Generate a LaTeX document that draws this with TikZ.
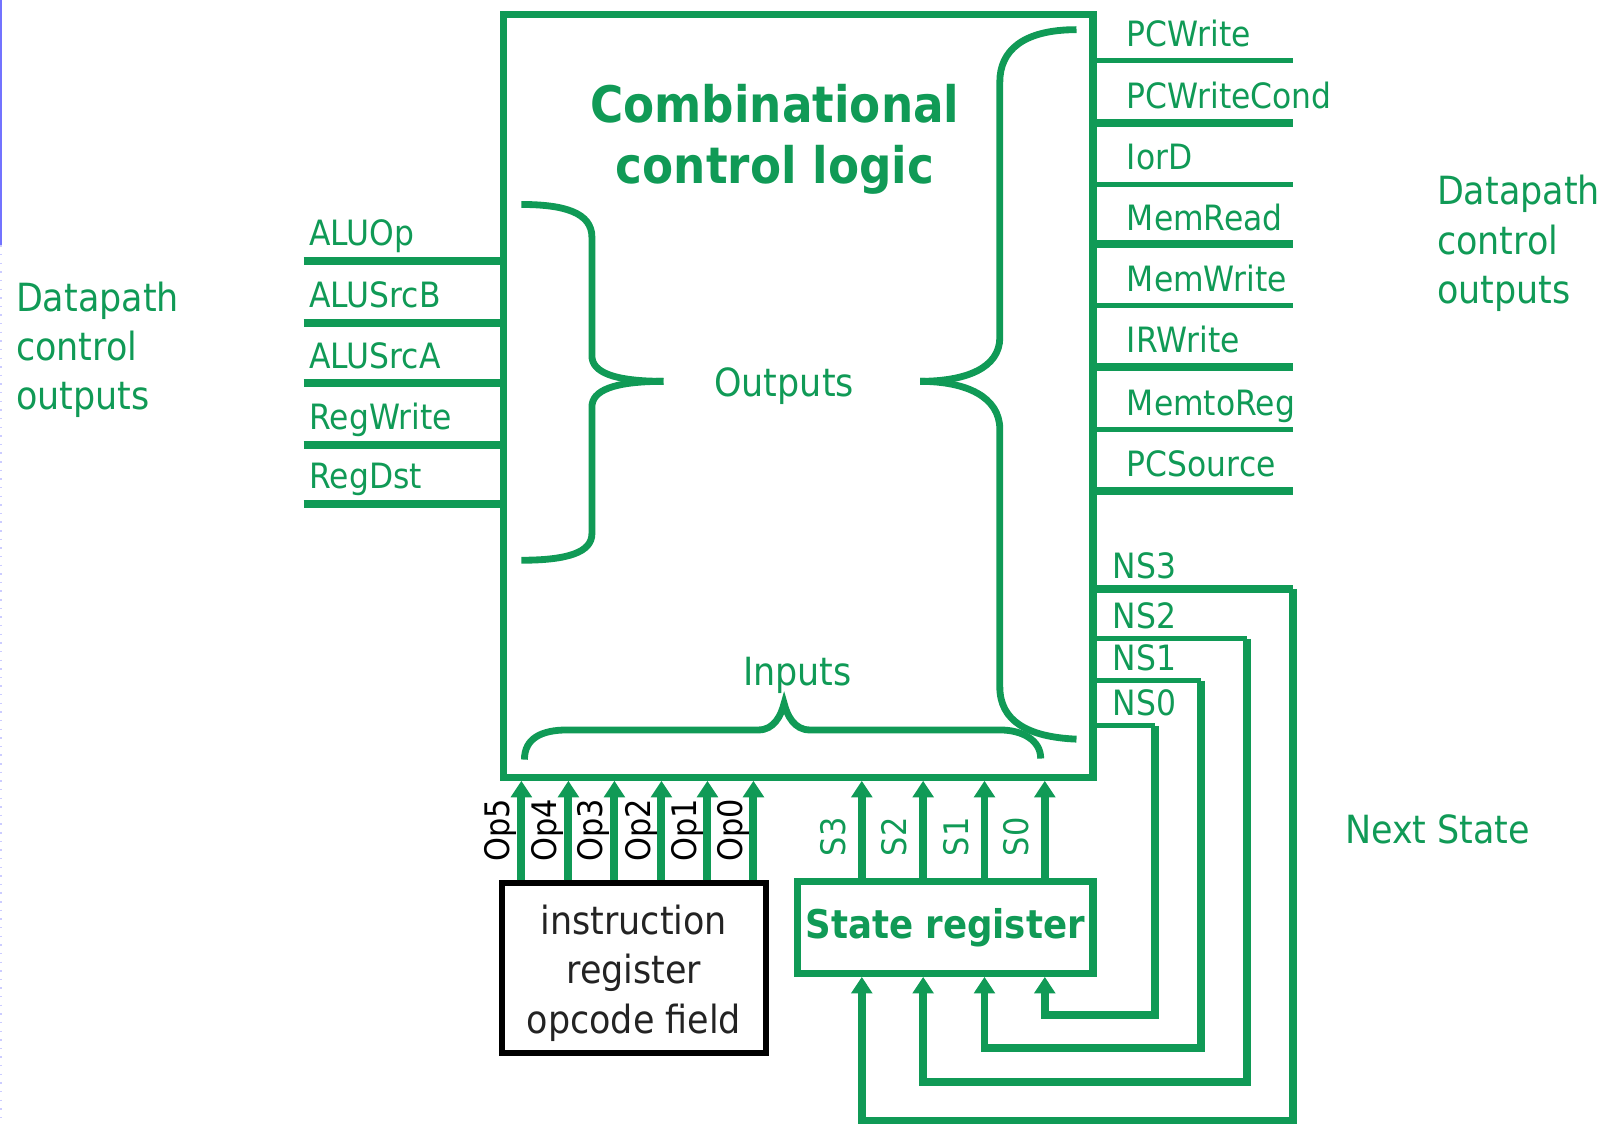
\documentclass[tikz,border=0pt]{standalone}
\usepackage{fontspec}
\setmainfont{DejaVu Sans}[FakeStretch=0.9]
\usetikzlibrary{arrows.meta,positioning,calc}
\definecolor{ctlgreen}{RGB}{16,154,86}
\definecolor{irgray}{RGB}{35,35,35}

\begin{document}
\begin{tikzpicture}[
  x=0.01cm, y=-0.01cm,
  >={Triangle[width=5.7pt,length=4.6pt]},
  block/.style={draw=ctlgreen, line width=2pt, inner sep=0pt},
  sig/.style={ctlgreen, line width=2.2pt},
  bracestroke/.style={ctlgreen, line width=1.9pt},
  siglabel/.style={text=ctlgreen, font=\fontsize{9.7pt}{11pt}\selectfont, inner sep=0pt, anchor=base west},
  buslabel/.style={font=\fontsize{9.4pt}{11pt}\selectfont, inner sep=0pt, rotate=90},
  note/.style={text=ctlgreen, font=\fontsize{10.8pt}{13.7pt}\selectfont, inner sep=0pt, align=left}
]
\useasboundingbox (0,0) rectangle (1568,1099);

% slide edge
\draw[blue!55, line width=0.6pt] (1,0) -- (1,240);
\draw[blue!20, dotted, line width=0.4pt] (1,240) -- (1,1099);

% blocks
\node[block, minimum width=5.76cm, minimum height=7.46cm] (ccl) at (781,387) {};
\node[text=ctlgreen, font=\fontsize{14pt}{17pt}\selectfont\bfseries, align=center] (title) at (758,136) {Combinational\\control logic};
\node[draw=black, line width=1.6pt, minimum width=2.58cm, minimum height=1.66cm, inner sep=0pt] (ir) at (620,947) {};
\node[align=center, text=irgray, font=\fontsize{10.8pt}{13.9pt}\selectfont, inner sep=0pt] (irtext) at ($(ir.center)+(0,5)$) {instruction\\register\\opcode field};
\node[block, minimum width=2.89cm, minimum height=0.9cm, text=ctlgreen,
  font=\fontsize{11pt}{13pt}\selectfont\bfseries] (sr) at (924.5,907) {State register};

% side texts
\node[note, anchor=west] (dpleft) at (15,342) {Datapath\\control\\outputs};
\node[note, anchor=west] (dpright) at (1405,238) {Datapath\\control\\outputs};
\node[note, anchor=west] (next) at (1315,811) {Next State};
\node[note] (outs) at (767,378) {Outputs};
\node[note] (ins) at (780,661) {Inputs};

% braces
\draw[bracestroke] (510,200) .. controls (552,200) and (579,208) .. (579,232)
  -- (579,348) .. controls (579,364) and (600,373) .. (649,373);
\draw[bracestroke] (649,373) .. controls (600,373) and (579,382) .. (579,398)
  -- (579,522) .. controls (579,540) and (556,548) .. (510,548);
\draw[bracestroke] (1053,29) .. controls (1000,29) and (978,50) .. (978,80)
  -- (978,330) .. controls (978,360) and (945,373) .. (900,373);
\draw[bracestroke] (900,373) .. controls (945,373) and (978,388) .. (978,420)
  -- (978,672) .. controls (978,705) and (1005,721) .. (1053,723);
\draw[bracestroke] (513,743) .. controls (513,722) and (530,714) .. (555,714)
  -- (742,714) .. controls (757,714) and (764,700) .. (767,688)
  .. controls (770,700) and (777,714) .. (792,714)
  -- (978,714) .. controls (1000,714) and (1018,724) .. (1018,742);

% left outputs
\foreach \sname/\yy in {ALUOp/255, ALUSrcB/316, ALUSrcA/375, RegWrite/435, RegDst/493} {
  \coordinate (\sname) at (297,\yy);
  \draw[sig] (\sname) -- (ccl.west |- \sname);
  \node[siglabel] (\sname-l) at ($(\sname)+(5,-15)$) {\sname};
}

% right outputs
\foreach \sname/\yy/\lw in {PCWrite/59/1.4pt, PCWriteCond/120/2.2pt, IorD/180/1.4pt, MemRead/239/2.2pt,
  MemWrite/299/1.4pt, IRWrite/359/2.2pt, MemtoReg/420/1.4pt, PCSource/480/2.2pt} {
  \coordinate (\sname) at (1265,\yy);
  \draw[sig, line width=\lw] (ccl.east |- \sname) -- (\sname);
  \node[siglabel] (\sname-l) at ($(ccl.east |- \sname)+(29,-14)$) {\sname};
}

% opcode bits
\foreach \k/\xx in {5/510, 4/556, 3/601, 2/647, 1/692, 0/737} {
  \coordinate (op\k) at (\xx,0);
  \draw[sig, ->] (ir.north -| op\k) -- (ccl.south -| op\k);
  \node[buslabel, text=black] (op\k-l) at ($(ir.north -| op\k)+(-20,-49)$) {Op\k};
}

% state bits
\foreach \k/\xx in {3/843, 2/903, 1/963, 0/1022} {
  \coordinate (s\k) at (\xx,0);
  \draw[sig, ->] (sr.north -| s\k) -- (ccl.south -| s\k);
  \node[buslabel, text=ctlgreen] (s\k-l) at ($(sr.north -| s\k)+(-28,-40)$) {S\k};
}

% next state feedback
\foreach \k/\yy/\xx/\bb/\lw in {3/576/1265/1096/2.2pt, 2/625/1220/1058/1.4pt, 1/666/1175/1025/1.4pt, 0/710/1130/993/1.4pt} {
  \coordinate (ns\k) at (\xx,\yy);
  \coordinate (nb\k) at (\xx,\bb);
  \draw[sig, line width=\lw] (ccl.east |- ns\k) -- (ns\k);
  \draw[sig, ->] (ns\k) -- (nb\k) -| (sr.south -| s\k);
  \node[siglabel] (ns\k-l) at ($(ccl.east |- ns\k)+(15,-10)$) {NS\k};
}

\end{tikzpicture}
\end{document}
